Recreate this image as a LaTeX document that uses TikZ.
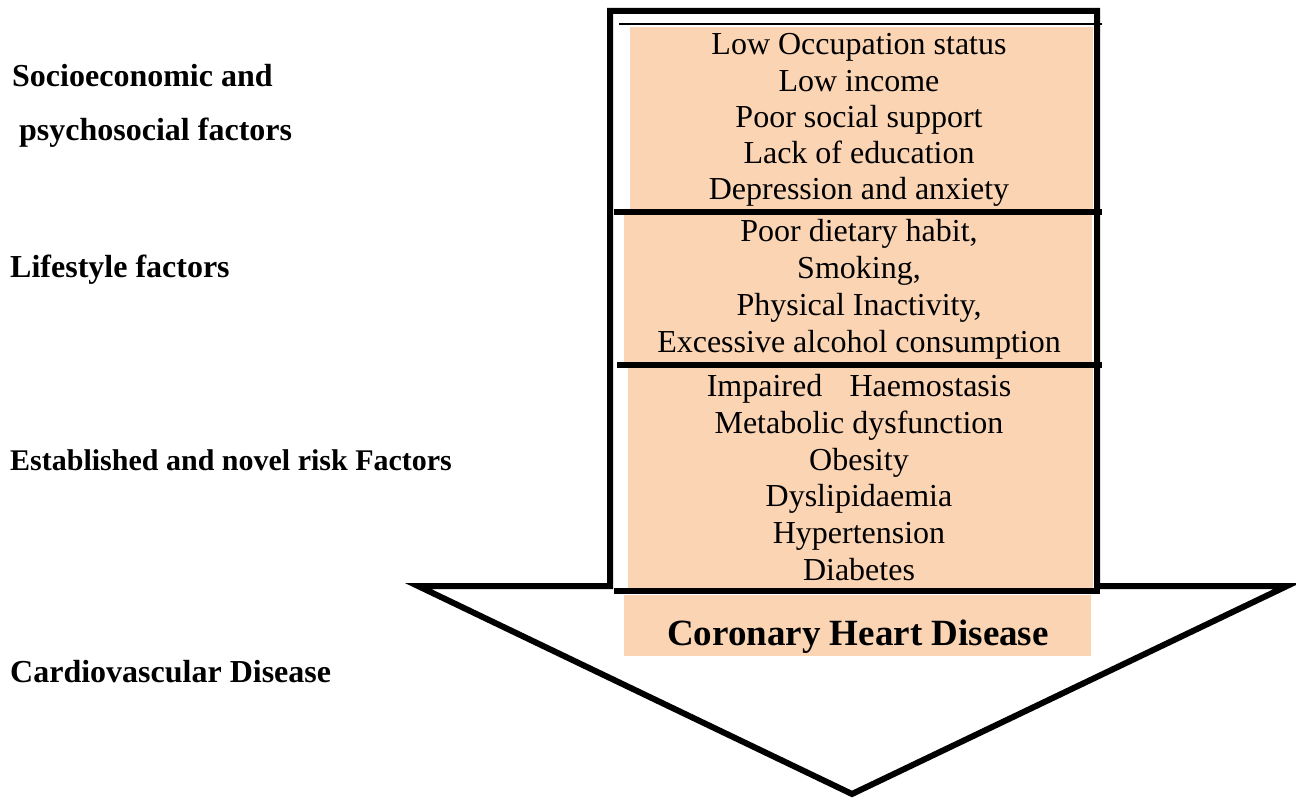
\documentclass[tikz,border=0pt]{standalone}
\usepackage{fontspec}
\setmainfont{Liberation Serif}
\definecolor{peach}{HTML}{FBD4B4}
\begin{document}
\begin{tikzpicture}[x=1pt,y=-1pt,
  boxtxt/.style={anchor=base,inner sep=0pt,font=\fontsize{32}{36}\selectfont},
  lbl/.style={anchor=base west,inner sep=0pt,font=\fontsize{32}{36}\selectfont\bfseries},
  chd/.style={anchor=base,inner sep=0pt,font=\fontsize{37}{40}\selectfont\bfseries},
  heavy/.style={line width=6pt},
  outline/.style={line width=6pt,line join=miter,miter limit=10},
  band/.style={fill=peach}]
\useasboundingbox (0,0) rectangle (1296,799);
% peach bands
\fill[band] (630,27) rectangle (1093,210);
\fill[band] (624,215) rectangle (1092,363);
\fill[band] (628,368) rectangle (1093,589);
\fill[band] (624,595) rectangle (1091,656);
% arrow outline
\coordinate (sl) at (610,586);
\coordinate (tl) at (610,11);
\coordinate (tr) at (1097,11);
\coordinate (sr) at (1097,586);
\coordinate (rt) at (1287,586);
\coordinate (bt) at (852,794);
\coordinate (lt) at (418,586);
\draw[outline] (sl) -- (tl) -- (tr) -- (sr) -- (rt) -- (bt) -- (lt) -- cycle;
% separators
\coordinate (t0a) at (619,24); \coordinate (t0b) at (1102,24);
\draw[line width=2pt] (t0a) -- (t0b);
\coordinate (s1a) at (614,212); \coordinate (s1b) at (1102,212);
\coordinate (s2a) at (617,365); \coordinate (s2b) at (1102,365);
\coordinate (s3a) at (614,591); \coordinate (s3b) at (1100,591);
\draw[heavy] (s1a) -- (s1b);
\draw[heavy] (s2a) -- (s2b);
\draw[heavy] (s3a) -- (s3b);
% box texts
\foreach \t [count=\i] in {Low Occupation status, Low income, Poor social support, Lack of education, Depression and anxiety}
  \node[boxtxt] (a\i) at (859,{55+36.25*(\i-1)}) {\t};
\foreach \t [count=\i] in {{Poor dietary habit,}, {Smoking,}, {Physical Inactivity,}, {Excessive alcohol consumption}}
  \node[boxtxt] (b\i) at (859,{242+36.67*(\i-1)}) {\t};
\foreach \t [count=\i] in {Impaired\hspace{0.85em}Haemostasis, Metabolic dysfunction, Obesity, Dyslipidaemia, Hypertension, Diabetes}
  \node[boxtxt] (c\i) at (859,{397+36.6*(\i-1)}) {\t};
\node[chd] (chd) at (858,645) {Coronary Heart Disease};
% left labels
\node[lbl] (l1) at (12,87) {Socioeconomic and};
\node[lbl] (l2) at (19,141) {psychosocial factors};
\node[lbl] (l3) at (10,278) {Lifestyle factors};
\node[lbl,font=\fontsize{30}{36}\selectfont\bfseries] (l4) at (10,471) {Established and novel risk Factors};
\node[lbl] (l5) at (10,682) {Cardiovascular Disease};
\end{tikzpicture}
\end{document}
